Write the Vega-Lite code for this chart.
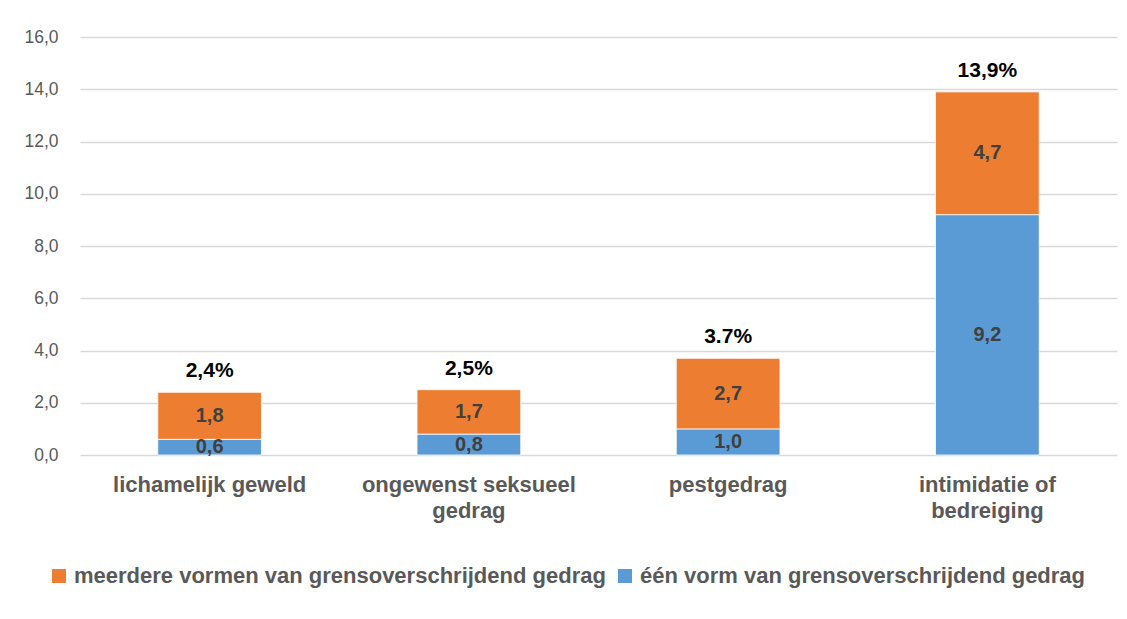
{
  "$schema": "https://vega.github.io/schema/vega-lite/v6.json",
  "width": 1037,
  "height": 418,
  "autosize": {"type": "none"},
  "padding": {"left": 80, "top": 37, "right": 10, "bottom": 164},
  "background": "white",
  "config": {"view": {"stroke": null}, "font": "Liberation Sans"},
  "datasets": {
    "segments": [
      {"cat": "lichamelijk geweld", "series": "één vorm van grensoverschrijdend gedrag", "value": 0.6},
      {"cat": "lichamelijk geweld", "series": "meerdere vormen van grensoverschrijdend gedrag", "value": 1.8},
      {"cat": "ongewenst seksueel gedrag", "series": "één vorm van grensoverschrijdend gedrag", "value": 0.8},
      {"cat": "ongewenst seksueel gedrag", "series": "meerdere vormen van grensoverschrijdend gedrag", "value": 1.7},
      {"cat": "pestgedrag", "series": "één vorm van grensoverschrijdend gedrag", "value": 1.0},
      {"cat": "pestgedrag", "series": "meerdere vormen van grensoverschrijdend gedrag", "value": 2.7},
      {"cat": "intimidatie of bedreiging", "series": "één vorm van grensoverschrijdend gedrag", "value": 9.2},
      {"cat": "intimidatie of bedreiging", "series": "meerdere vormen van grensoverschrijdend gedrag", "value": 4.7}
    ],
    "totals": [
      {"cat": "lichamelijk geweld", "total": 2.4, "label": "2,4%"},
      {"cat": "ongewenst seksueel gedrag", "total": 2.5, "label": "2,5%"},
      {"cat": "pestgedrag", "total": 3.7, "label": "3.7%"},
      {"cat": "intimidatie of bedreiging", "total": 13.9, "label": "13,9%"}
    ]
  },
  "layer": [
    {
      "data": {"name": "segments"},
      "transform": [
        {"stack": "value", "groupby": ["cat"], "sort": [{"field": "series", "order": "descending"}], "as": ["y0", "y1"]}
      ],
      "mark": {"type": "bar", "stroke": "white", "strokeWidth": 0.8},
      "encoding": {
        "x": {
          "field": "cat", "type": "nominal",
          "sort": ["lichamelijk geweld", "ongewenst seksueel gedrag", "pestgedrag", "intimidatie of bedreiging"],
          "scale": {"paddingInner": 0.6, "paddingOuter": 0.3},
          "axis": {
            "title": null, "domain": false, "ticks": false, "tickSize": 0, "labelAngle": 0,
            "labelFont": "Liberation Sans", "labelFontSize": 22, "labelFontWeight": "bold", "labelColor": "#595959",
            "labelPadding": 19, "labelLineHeight": 26, "labelLimit": 0,
            "labelExpr": "datum.value == 'ongewenst seksueel gedrag' ? ['ongewenst seksueel', 'gedrag'] : datum.value == 'intimidatie of bedreiging' ? ['intimidatie of', 'bedreiging'] : datum.value"
          }
        },
        "y": {
          "field": "y0", "type": "quantitative",
          "scale": {"domain": [0, 16], "nice": false},
          "axis": {
            "title": null, "domain": false, "ticks": false, "values": [0, 2, 4, 6, 8, 10, 12, 14, 16],
            "labelFont": "Liberation Sans", "labelFontSize": 17.5, "labelColor": "#595959", "labelPadding": 22,
            "gridColor": "#D9D9D9", "gridWidth": 1.3,
            "labelExpr": "replace(format(datum.value, '.1f'), '.', ',')"
          }
        },
        "y2": {"field": "y1"},
        "color": {
          "field": "series", "type": "nominal",
          "scale": {"domain": ["meerdere vormen van grensoverschrijdend gedrag", "één vorm van grensoverschrijdend gedrag"], "range": ["#ED7D31", "#5B9BD5"]},
          "legend": {
            "orient": "none", "legendX": -32, "legendY": 528, "direction": "horizontal", "columns": 2, "title": null,
            "symbolType": "square", "symbolSize": 196, "symbolStrokeWidth": 0, "symbolOpacity": 1,
            "labelFont": "Liberation Sans", "labelFontSize": 22, "labelFontWeight": "bold", "labelColor": "#595959",
            "labelLimit": 0, "labelOffset": 4, "columnPadding": 8
          }
        }
      }
    },
    {
      "data": {"name": "segments"},
      "transform": [
        {"stack": "value", "groupby": ["cat"], "sort": [{"field": "series", "order": "descending"}], "as": ["y0", "y1"]},
        {"calculate": "(datum.y0 + datum.y1) / 2", "as": "mid"},
        {"calculate": "replace(format(datum.value, '.1f'), '.', ',')", "as": "lbl"}
      ],
      "mark": {"type": "text", "font": "Liberation Sans", "fontSize": 20, "fontWeight": "bold", "color": "#404040", "baseline": "middle", "align": "center"},
      "encoding": {
        "x": {"field": "cat", "type": "nominal", "sort": ["lichamelijk geweld", "ongewenst seksueel gedrag", "pestgedrag", "intimidatie of bedreiging"]},
        "y": {"field": "mid", "type": "quantitative"},
        "text": {"field": "lbl"}
      }
    },
    {
      "data": {"name": "totals"},
      "mark": {"type": "text", "font": "Liberation Sans", "fontSize": 21, "fontWeight": "bold", "color": "#000000", "baseline": "middle", "align": "center", "dy": -21},
      "encoding": {
        "x": {"field": "cat", "type": "nominal", "sort": ["lichamelijk geweld", "ongewenst seksueel gedrag", "pestgedrag", "intimidatie of bedreiging"]},
        "y": {"field": "total", "type": "quantitative"},
        "text": {"field": "label"}
      }
    }
  ]
}
